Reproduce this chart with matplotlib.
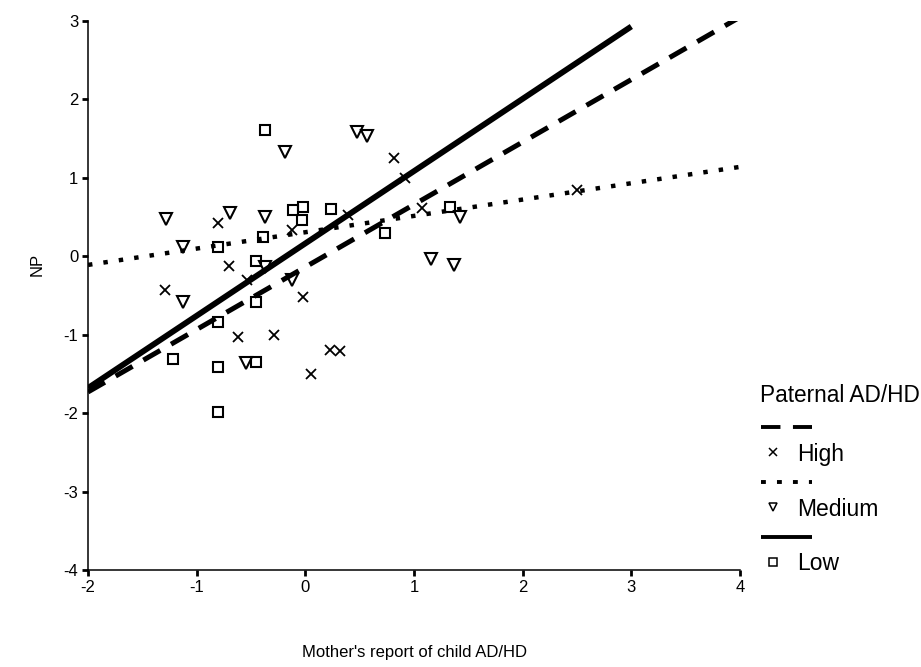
import matplotlib

matplotlib.use("Agg")
import matplotlib.pyplot as plt
from matplotlib.lines import Line2D

plt.rcParams["font.family"] = ["Liberation Sans", "DejaVu Sans"]
plt.rcParams["lines.scale_dashes"] = False
plt.rcParams["axes.unicode_minus"] = False

# scatter data
high_x = [-0.80, -0.12, 0.39, 0.82, 0.92, 1.07, 2.50, -0.70, -0.54, -1.29,
          -0.62, -0.29, -0.02, 0.23, 0.32, 0.05]
high_y = [0.42, 0.33, 0.53, 1.25, 1.00, 0.61, 0.84, -0.13, -0.30, -0.43,
          -1.03, -1.00, -0.52, -1.20, -1.21, -1.50]

medium_x = [-1.28, -0.69, -0.37, -0.19, 0.48, 0.57, 1.42, -1.13, -0.37,
            -1.13, -0.55, -0.12, 1.16, 1.37]
medium_y = [0.47, 0.55, 0.50, 1.33, 1.58, 1.53, 0.50, 0.12, -0.14,
            -0.58, -1.36, -0.30, -0.04, -0.11]

low_x = [-0.37, -0.11, -0.02, -0.03, 0.24, 1.33, -0.80, -0.39, -0.45, -0.45,
         -0.80, 0.73, -1.22, -0.80, -0.45, -0.80]
low_y = [1.61, 0.59, 0.63, 0.46, 0.60, 0.63, 0.12, 0.24, -0.06, -0.58,
         -0.84, 0.30, -1.31, -1.41, -1.35, -1.99]

# regression line end points
high_line_x = [-2.0, 4.0]
high_line_y = [-1.73, 3.05]
medium_line_x = [-2.0, 4.0]
medium_line_y = [-0.11, 1.14]
low_line_x = [-2.0, 3.0]
low_line_y = [-1.68, 2.93]

x_ticks = [-2, -1, 0, 1, 2, 3, 4]
y_ticks = [-4, -3, -2, -1, 0, 1, 2, 3]

W, H = 921, 667
fig = plt.figure(figsize=(W / 100, H / 100), dpi=100)
ax = fig.add_axes([88 / W, 1 - 570 / H, 652 / W, 549 / H])

mk = dict(color="black", linestyle="none", markerfacecolor="none",
          markeredgecolor="black", zorder=2)
ax.plot(high_x, high_y, marker="x", markersize=7, markeredgewidth=1.3, **mk)
ax.plot(medium_x, medium_y, marker="v", markersize=9, markeredgewidth=1.5, **mk)
ax.plot(low_x, low_y, marker="s", markersize=7.5, markeredgewidth=1.5, **mk)

ax.plot(high_line_x, high_line_y, color="black", linewidth=3.6,
        dashes=(14, 9), dash_capstyle="butt", zorder=3)
ax.plot(medium_line_x, medium_line_y, color="black", linewidth=3.2,
        dashes=(3.2, 8), dash_capstyle="butt", zorder=3)
ax.plot(low_line_x, low_line_y, color="black", linewidth=4.2,
        solid_capstyle="butt", zorder=3)

ax.set_xlim(-2, 4)
ax.set_ylim(-4, 3)
ax.set_xticks(x_ticks)
ax.set_yticks(y_ticks)
ax.tick_params(direction="out", length=4, width=2, labelsize=12, pad=3)
for side in ("top", "right"):
    ax.spines[side].set_visible(False)
for side in ("left", "bottom"):
    ax.spines[side].set_linewidth(1.1)

ax.set_xlabel("Mother's report of child AD/HD", fontsize=12, labelpad=36)
ax.set_ylabel("NP", fontsize=12)
ax.yaxis.set_label_coords(-0.066, 0.556)

# hand-built legend, laid out like the original
def fy(py):
    return 1 - py / H


fig.text(760 / W, fy(395), "Paternal AD/HD", fontsize=16.3, va="center", ha="left")
samples = [
    (427, dict(dashes=(14, 9), dash_capstyle="butt"), "x", 452, "High"),
    (482, dict(dashes=(3.5, 8), dash_capstyle="butt"), "v", 507, "Medium"),
    (537, dict(solid_capstyle="butt"), "s", 562, "Low"),
]
for ly, style, marker, my, label in samples:
    fig.add_artist(Line2D([761 / W, 812 / W], [fy(ly), fy(ly)], color="black",
                          linewidth=2.8, transform=fig.transFigure, **style))
    fig.add_artist(Line2D([773 / W], [fy(my)], marker=marker, markersize=6,
                          markerfacecolor="none", markeredgecolor="black",
                          markeredgewidth=1.1, linestyle="none",
                          transform=fig.transFigure))
    fig.text(797 / W, fy(my + 2), label, fontsize=16.5, va="center", ha="left")

fig.savefig("out.png", dpi=100)
